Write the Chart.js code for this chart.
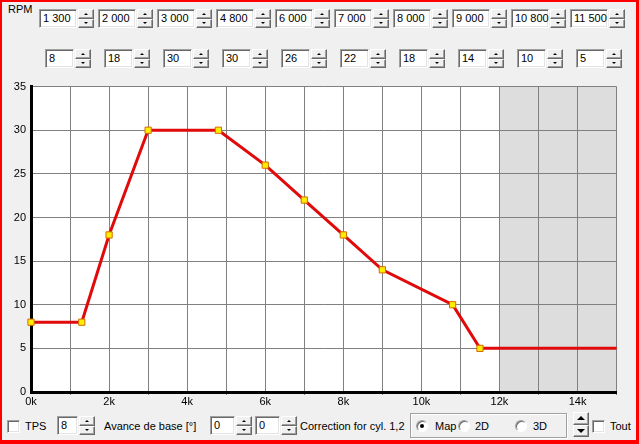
<!DOCTYPE html>
<html>
<head>
<meta charset="utf-8">
<script src="https://cdn.jsdelivr.net/npm/chart.js@4.4.1/dist/chart.umd.min.js"></script>
<style>
body{margin:0;width:639px;height:444px;overflow:hidden;background:#f0f0f0;font:11px "Liberation Sans",Arial,sans-serif;color:#000;position:relative}
.frame{position:absolute;left:0;top:0;width:639px;height:444px;box-sizing:border-box;border-style:solid;border-color:#f00;border-width:2px 3px 4px 2px;pointer-events:none;z-index:5}
.lbl{position:absolute;white-space:nowrap;line-height:13px}
.tb{position:absolute;box-sizing:border-box;background:#fff;border:1px solid;border-color:#a0a0a0 #fff #fff #a0a0a0;box-shadow:inset 1px 1px 0 #696969,inset -1px -1px 0 #e3e3e3;padding-left:3px;line-height:17px;white-space:nowrap}
.sp{position:absolute}
.sp div{position:absolute;left:0;right:0;height:50%;box-sizing:border-box;background:#f0f0f0;border:1px solid;border-color:#fff #696969 #696969 #fff;box-shadow:inset -1px -1px 0 #a0a0a0}
.sp .up{top:0}
.sp .dn{top:50%}
.sp div:after{content:'';position:absolute;left:50%;top:50%;width:0;height:0;margin-left:-2px;margin-top:-1px;border-left:2px solid transparent;border-right:2px solid transparent}
.sp .up:after{border-bottom:2px solid #000}
.sp .dn:after{border-top:2px solid #000}
.sp.big div:after{margin-left:-4px;margin-top:-2px;border-left-width:4px;border-right-width:4px}
.sp.big .up:after{border-bottom-width:4px}
.sp.big .dn:after{border-top-width:4px}
.chk{position:absolute;width:13px;height:13px;box-sizing:border-box;background:#fff;border:1px solid;border-color:#a0a0a0 #fff #fff #a0a0a0;box-shadow:inset 1px 1px 0 #696969,inset -1px -1px 0 #e3e3e3}
.rad{position:absolute;width:12px;height:12px;box-sizing:border-box;border-radius:50%;background:#fff;border:1px solid;border-color:#a0a0a0 #fff #fff #a0a0a0;box-shadow:inset 1px 1px 0 #696969}
.rad.on:after{content:'';position:absolute;left:3px;top:3px;width:4px;height:4px;border-radius:50%;background:#000}
.grp{position:absolute;box-sizing:border-box;border:1px solid #a0a0a0;box-shadow:inset 1px 1px 0 #fff,1px 1px 0 #fff}
#wrap{position:absolute;left:0;top:75px;width:622px;height:337px}
</style>
</head>
<body>
<div id="wrap"><canvas id="myChart" width="622" height="337"></canvas></div>
<div id="controls"></div>
<div class="frame"></div>
<script>
// setpoints shown in the spin boxes
const rpmBoxes = [1300, 2000, 3000, 4800, 6000, 7000, 8000, 9000, 10800, 11500];
const advanceBoxes = [8, 18, 30, 30, 26, 22, 18, 14, 10, 5];

// curve drawn on the map (rpm / advance in degrees)
const curveRpm = [0, 1300, 2000, 3000, 4800, 6000, 7000, 8000, 9000, 10800, 11500, 15000];
const curveAdvance = [8, 8, 18, 30, 30, 26, 22, 18, 14, 10, 5, 5];
const curveMarkers = [true, true, true, true, true, true, true, true, true, true, true, false];

const rpmMax = 15000;
const rpmStep = 1000;
const advanceMax = 35;
const advanceStep = 5;
const shadeFromRpm = 12000;

const baseAdvance = 8;
const correctionCyl = [0, 0];

var controls = document.getElementById('controls');

function formatRpm(v){
    var s = v.toString();
    return s.length > 3 ? s.slice(0, -3) + ' ' + s.slice(-3) : s;
}

function addEl(cls, x, y, w, h, text){
    var d = document.createElement('div');
    d.className = cls;
    d.style.left = x + 'px';
    d.style.top = y + 'px';
    if (w) d.style.width = w + 'px';
    if (h) d.style.height = h + 'px';
    if (text !== undefined) d.textContent = text;
    controls.appendChild(d);
    return d;
}

function addSpin(x, y, w, h, big){
    var s = addEl(big ? 'sp big' : 'sp', x, y, w, h);
    s.innerHTML = '<div class="up"></div><div class="dn"></div>';
}

function addSpinBox(x, y, boxW, h, text){
    addEl('tb', x, y, boxW, h, text);
    addSpin(x + boxW + 1, y, 16, h);
}

function buildControls(){
    addEl('lbl', 8, 3, 0, 0, 'RPM');
    rpmBoxes.forEach(function(v, i){
        addSpinBox(39 + i * 59, 9, 38, 19, formatRpm(v));
    });
    advanceBoxes.forEach(function(v, i){
        addSpinBox(45 + i * 59, 49, 29, 19, String(v));
    });

    /* bottom row */
    addEl('chk', 7, 420);
    addEl('lbl', 25, 420, 0, 0, 'TPS');
    addSpinBox(57, 416, 21, 19, String(baseAdvance));
    addEl('lbl', 104, 420, 0, 0, 'Avance de base [°]');
    addSpinBox(210, 416, 25, 19, String(correctionCyl[0]));
    addSpinBox(255, 416, 25, 19, String(correctionCyl[1]));
    addEl('lbl', 300, 420, 0, 0, 'Correction for cyl. 1,2');
    addEl('grp', 410, 413, 157, 25);
    addEl('rad on', 416, 420);
    addEl('lbl', 435, 420, 0, 0, 'Map');
    addEl('rad', 458, 420);
    addEl('lbl', 475, 420, 0, 0, '2D');
    addEl('rad', 515, 420);
    addEl('lbl', 533, 420, 0, 0, '3D');
    addSpin(573, 412, 16, 25, true);
    addEl('chk', 592, 420);
    addEl('lbl', 610, 420, 0, 0, 'Tout');
}

const zonePlugin = {
    id: 'zone',
    beforeDraw(chart){
        const a = chart.chartArea;
        const ctx = chart.ctx;
        const xs = chart.scales.x.getPixelForValue(shadeFromRpm);
        ctx.save();
        ctx.fillStyle = '#ffffff';
        ctx.fillRect(a.left, a.top, a.right - a.left, a.bottom - a.top);
        ctx.fillStyle = '#dddddd';
        ctx.fillRect(xs, a.top, a.right - xs, a.bottom - a.top);
        ctx.restore();
    }
};

function showChart(){
    const points = curveRpm.map(function(r, i){ return {x: r, y: curveAdvance[i]}; });
    const font = {family: '"Liberation Sans", Arial, sans-serif', size: 11};
    const config = {
        type: 'line',
        data: {
            datasets: [{
                data: points,
                borderColor: '#e00a0a',
                borderWidth: 3,
                tension: 0,
                clip: false,
                pointStyle: 'rect',
                pointRadius: curveMarkers.map(function(m){ return m ? 4.4 : 0; }),
                pointBackgroundColor: '#ffee00',
                pointBorderColor: '#d46a00',
                pointBorderWidth: 1
            }]
        },
        options: {
            responsive: false,
            animation: false,
            layout: {padding: {top: 10, right: 2, left: 0, bottom: 0}},
            plugins: {legend: {display: false}, tooltip: {enabled: false}},
            scales: {
                x: {
                    type: 'linear',
                    min: 0,
                    max: rpmMax,
                    afterFit: function(s){ s.height = 20; },
                    border: {color: '#000', width: 3},
                    grid: {
                        color: '#808080',
                        lineWidth: 1,
                        tickLength: 3,
                        tickColor: function(c){ return c.tick.value % 2000 === 0 ? 'rgba(0,0,0,0)' : '#808080'; }
                    },
                    ticks: {
                        stepSize: rpmStep,
                        autoSkip: false,
                        maxRotation: 0,
                        padding: 0,
                        color: '#000',
                        font: font,
                        callback: function(v){ return v % 2000 === 0 ? (v / 1000) + 'k' : ''; }
                    }
                },
                y: {
                    min: 0,
                    max: advanceMax,
                    afterFit: function(s){ s.width = 31; },
                    border: {color: '#000', width: 3},
                    grid: {color: '#808080', lineWidth: 1, drawTicks: false},
                    ticks: {stepSize: advanceStep, padding: 5, color: '#000', font: font}
                }
            }
        },
        plugins: [zonePlugin]
    };
    new Chart(document.getElementById('myChart'), config);
}

buildControls();
showChart();
</script>
</body>
</html>
